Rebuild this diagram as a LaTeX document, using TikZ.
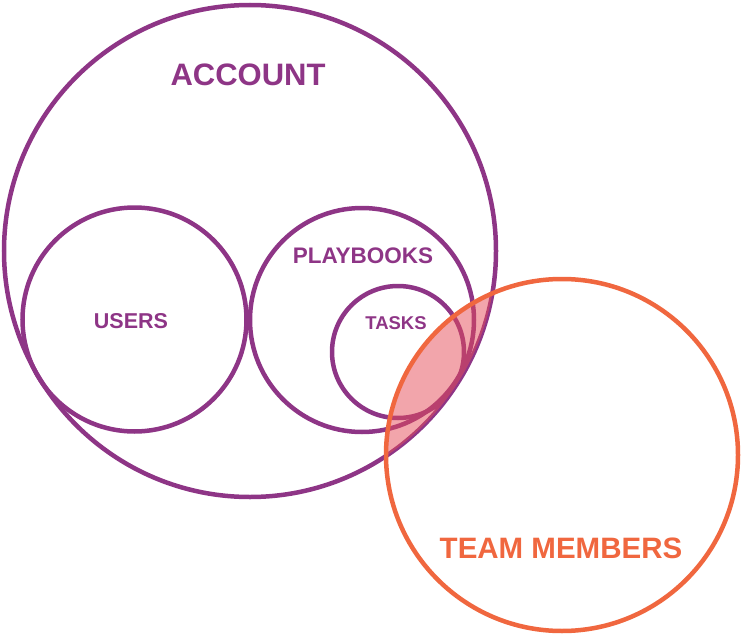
\documentclass[tikz,border=0pt]{standalone}
\usepackage{fontspec}
\setmainfont{Liberation Sans}
\definecolor{acctpurple}{HTML}{8E3586}
\definecolor{teamorange}{HTML}{F0673F}
\definecolor{overlap}{HTML}{E54B57}
\tikzset{
  setring/.style={draw=acctpurple, line width=4.5pt},
  teamring/.style={draw=teamorange, line width=4.5pt},
  setlabel/.style={text=acctpurple, font=\bfseries},
}
\begin{document}
\begin{tikzpicture}[x=1pt, y=-1pt]
  \useasboundingbox (0,0) rectangle (742,634);

  % purple sets
  \draw[setring] (250,251) circle (246);
  \draw[setring] (134.5,319.5) circle (112);
  \draw[setring] (362,320) circle (112);
  \draw[setring] (398,352) circle (66);

  % overlap of account and team members
  \begin{scope}
    \clip (250,251) circle (246);
    \fill[overlap, fill opacity=0.5] (562,455) circle (176);
  \end{scope}
  \draw[teamring] (562,455) circle (176);

  \node[setlabel, font=\bfseries\fontsize{31}{31}\selectfont] (account) at (248,75) {ACCOUNT};
  \node[setlabel, font=\bfseries\fontsize{21.5}{21.5}\selectfont] (users) at (131,321) {USERS};
  \node[setlabel, font=\bfseries\fontsize{22.5}{22.5}\selectfont] (playbooks) at (363,256) {PLAYBOOKS};
  \node[setlabel, font=\bfseries\fontsize{18.5}{18.5}\selectfont] (tasks) at (396,323) {TASKS};
  \node[text=teamorange, font=\bfseries\fontsize{29.5}{29.5}\selectfont] (team) at (561,548) {TEAM MEMBERS};
\end{tikzpicture}
\end{document}
